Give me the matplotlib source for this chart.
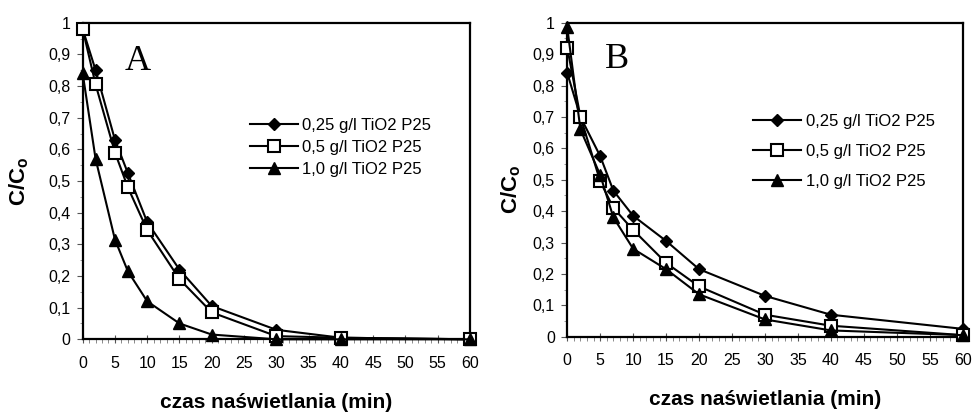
#!/usr/bin/env python3
"""Two-panel C/Co decay plot (A, B) for TiO2 P25 loadings."""

import matplotlib
matplotlib.use("Agg")
import matplotlib.pyplot as plt
import matplotlib.ticker as mticker

plt.rcParams.update({
    "font.family": ["Liberation Sans", "DejaVu Sans"],
    "font.size": 10,
    "mathtext.fontset": "custom",
    "mathtext.rm": "Liberation Sans",
    "mathtext.bf": "Liberation Sans:bold",
})

# ── data ────────────────────────────────────────────────────────────────
TIME = [0, 2, 5, 7, 10, 15, 20, 30, 40, 60]
LABELS = ["0,25 g/l TiO2 P25", "0,5 g/l TiO2 P25", "1,0 g/l TiO2 P25"]

A_025 = [0.98, 0.85, 0.63, 0.525, 0.37, 0.22, 0.105, 0.03, 0.005, 0.0]
A_05 = [0.98, 0.805, 0.59, 0.48, 0.345, 0.19, 0.085, 0.01, 0.005, 0.0]
A_10 = [0.84, 0.57, 0.315, 0.215, 0.12, 0.05, 0.015, 0.0, 0.0, 0.0]

B_025 = [0.84, 0.70, 0.575, 0.465, 0.385, 0.305, 0.215, 0.13, 0.07, 0.025]
B_05 = [0.92, 0.70, 0.495, 0.41, 0.34, 0.235, 0.16, 0.07, 0.035, 0.005]
B_10 = [0.985, 0.66, 0.515, 0.38, 0.28, 0.215, 0.135, 0.055, 0.02, 0.005]

STYLES = [
    dict(marker="D", markersize=6, markerfacecolor="black"),
    dict(marker="s", markersize=8, markerfacecolor="white", markeredgewidth=1.5),
    dict(marker="^", markersize=8, markerfacecolor="black"),
]


def comma_fmt(x, _):
    if abs(x) < 1e-9:
        return "0"
    if abs(x - 1) < 1e-9:
        return "1"
    return f"{x:.1f}".replace(".", ",")


def draw_panel(ax, series, letter, letter_xy, leg_xy, leg_spacing, ylab_xy):
    for ys, lab, st in zip(series, LABELS, STYLES):
        ax.plot(TIME, ys, color="black", linewidth=1.5,
                markeredgecolor="black", label=lab, clip_on=False, zorder=5, **st)

    ax.set_xlim(0, 60)
    ax.set_ylim(0, 1)
    ax.xaxis.set_major_locator(mticker.MultipleLocator(5))
    ax.xaxis.set_minor_locator(mticker.MultipleLocator(1))
    ax.yaxis.set_major_locator(mticker.MultipleLocator(0.1))
    ax.yaxis.set_minor_locator(mticker.MultipleLocator(0.05))
    ax.yaxis.set_major_formatter(mticker.FuncFormatter(comma_fmt))

    ax.tick_params(axis="x", which="major", direction="inout", length=6,
                   width=0.8, color="#555555", pad=9, labelsize=11.5)
    ax.tick_params(axis="x", which="minor", direction="out", length=3,
                   width=0.6, color="#777777")
    ax.tick_params(axis="y", which="major", direction="out", length=4,
                   width=0.8, color="#555555", pad=5, labelsize=11.5)
    ax.tick_params(axis="y", which="minor", direction="out", length=2,
                   width=0.6, color="#888888")

    for sp in ax.spines.values():
        sp.set_linewidth(1.6)
        sp.set_color("black")

    ax.text(letter_xy[0], letter_xy[1], letter, transform=ax.transAxes,
            ha="center", va="center", fontsize=26,
            family=["Liberation Serif", "DejaVu Serif"])

    ax.set_ylabel(r"C/C$_\mathbf{o}$", fontsize=16, fontweight="bold")
    ax.yaxis.set_label_coords(*ylab_xy)
    ax.set_xlabel("czas naświetlania (min)", fontsize=15, fontweight="bold")
    ax.xaxis.set_label_coords(0.5, -0.17)

    ax.legend(loc="upper left", bbox_to_anchor=leg_xy, frameon=False,
              borderpad=0, borderaxespad=0, handlelength=2.9,
              handletextpad=0.25, labelspacing=leg_spacing, fontsize=12)


fig = plt.figure(figsize=(9.75, 4.19), dpi=100)
ax_a = fig.add_axes([0.0848, 0.1902, 0.3972, 0.7556])
ax_b = fig.add_axes([0.5818, 0.1964, 0.4056, 0.7494])

draw_panel(ax_a, [A_025, A_05, A_10], "A", (0.143, 0.879), (0.432, 0.70), 0.42, (-0.134, 0.5))
draw_panel(ax_b, [B_025, B_05, B_10], "B", (0.126, 0.884), (0.470, 0.71), 0.9, (-0.112, 0.47))

fig.savefig("out.png", dpi=100)
